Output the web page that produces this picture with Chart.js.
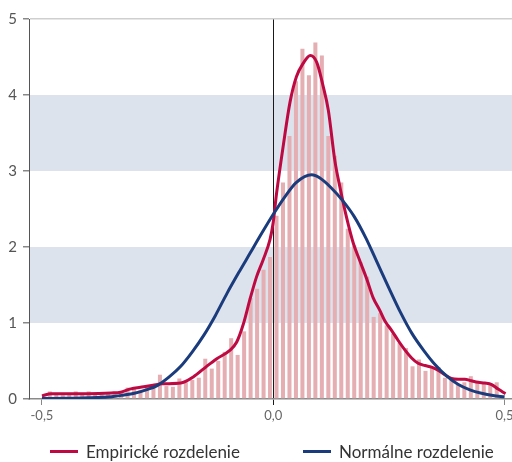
<!DOCTYPE html>
<html>
<head>
<meta charset="utf-8">
<script src="https://cdn.jsdelivr.net/npm/chart.js@4/dist/chart.umd.min.js"></script>
<style>
  html, body { margin: 0; padding: 0; background: #fff; }
  #wrap { position: relative; width: 512px; height: 462px; }
  #legend { position: absolute; left: 0; top: 440px; width: 512px; height: 22px; font-family: Lato, sans-serif; font-size: 17px; color: #333; }
  .item { position: absolute; top: 0; height: 22px; display: flex; align-items: center; white-space: nowrap; }
  .swatch { width: 28px; height: 3px; margin-right: 8px; }
</style>
</head>
<body>
<div id="wrap">
  <canvas id="distChart" width="512" height="462"></canvas>
  <div id="legend"></div>
</div>
<script>
// histogram bins (centre of first bin, bin width) and bar heights
const binStart = -0.483;
const binWidth = 0.014;
const binValues = [
  0.10, 0.07, 0.05, 0.06, 0.10, 0.06, 0.10, 0.07, 0.06, 0.07,
  0.08, 0.10, 0.15, 0.13, 0.12, 0.16, 0.17, 0.32, 0.17, 0.16,
  0.27, 0.22, 0.25, 0.28, 0.53, 0.40, 0.50, 0.62, 0.80, 0.58,
  0.89, 1.33, 1.45, 1.70, 1.87, 2.41, 2.85, 3.46, 4.18, 4.61,
  4.26, 4.69, 4.52, 3.46, 3.20, 2.85, 2.24, 2.02, 1.80, 1.61,
  1.08, 1.13, 0.97, 0.86, 0.74, 0.67, 0.43, 0.52, 0.37, 0.41,
  0.42, 0.28, 0.25, 0.19, 0.22, 0.30, 0.23, 0.21, 0.21, 0.22
];

// empirical density curve
const empX = [-0.5, -0.48, -0.45, -0.4, -0.35, -0.33, -0.31, -0.28, -0.26, -0.24,
  -0.2, -0.173, -0.144, -0.122, -0.094, -0.079, -0.065, -0.05, -0.036, -0.022,
  -0.007, 0.0, 0.007, 0.022, 0.036, 0.05, 0.065, 0.08, 0.094, 0.108,
  0.119, 0.133, 0.144, 0.158, 0.173, 0.187, 0.202, 0.216, 0.23, 0.241,
  0.256, 0.27, 0.284, 0.299, 0.313, 0.328, 0.342, 0.356, 0.371, 0.385,
  0.4, 0.414, 0.428, 0.443, 0.457, 0.472, 0.486, 0.502];
const empY = [0.04, 0.07, 0.07, 0.07, 0.08, 0.09, 0.13, 0.16, 0.18, 0.20,
  0.21, 0.29, 0.43, 0.53, 0.64, 0.75, 0.98, 1.32, 1.61, 1.83,
  2.10, 2.33, 2.70, 3.35, 3.90, 4.24, 4.42, 4.52, 4.43, 4.11,
  3.80, 3.14, 2.79, 2.40, 2.05, 1.82, 1.58, 1.33, 1.17, 1.03,
  0.90, 0.77, 0.65, 0.54, 0.47, 0.44, 0.42, 0.38, 0.32, 0.27,
  0.26, 0.26, 0.24, 0.22, 0.21, 0.19, 0.13, 0.07];

// normal density curve
const normX = [-0.5, -0.45, -0.4, -0.35, -0.325, -0.3, -0.275, -0.25, -0.225, -0.2,
  -0.175, -0.15, -0.125, -0.1, -0.075, -0.05, -0.025, 0, 0.025, 0.05,
  0.083, 0.1, 0.125, 0.15, 0.175, 0.2, 0.225, 0.25, 0.275, 0.3,
  0.325, 0.35, 0.375, 0.4, 0.425, 0.45, 0.475, 0.5];
const normY = [0.005, 0.01, 0.015, 0.03, 0.05, 0.075, 0.12, 0.18, 0.29, 0.43,
  0.62, 0.84, 1.10, 1.39, 1.66, 1.92, 2.18, 2.43, 2.66, 2.85,
  2.95, 2.91, 2.78, 2.61, 2.40, 2.12, 1.79, 1.46, 1.14, 0.86,
  0.64, 0.45, 0.30, 0.19, 0.12, 0.075, 0.045, 0.03];

const xTickValues = [-0.5, 0, 0.5];
const yBands = [[1, 2], [3, 4]];
const seriesLabels = ['Empirické rozdelenie', 'Normálne rozdelenie'];
const seriesColors = ['#be0a42', '#1b3c7c'];

const bandPlugin = {
  id: 'bands',
  beforeDraw(chart) {
    const { ctx, chartArea, scales } = chart;
    ctx.save();
    ctx.fillStyle = '#dde3ed';
    yBands.forEach(([lo, hi]) => {
      const top = scales.y.getPixelForValue(hi);
      const bottom = scales.y.getPixelForValue(lo);
      ctx.fillRect(chartArea.left, top, chartArea.right - chartArea.left, bottom - top);
    });
    ctx.restore();
  }
};

const ctx = document.getElementById('distChart').getContext('2d');

const chart = new Chart(ctx, {
  type: 'bar',
  data: {
    datasets: [
      {
        type: 'line',
        label: seriesLabels[1],
        data: normX.map((x, i) => ({ x: x, y: normY[i] })),
        borderColor: seriesColors[1],
        borderWidth: 3,
        pointRadius: 0,
        cubicInterpolationMode: 'monotone',
        order: 1
      },
      {
        type: 'line',
        label: seriesLabels[0],
        data: empX.map((x, i) => ({ x: x, y: empY[i] })),
        borderColor: seriesColors[0],
        borderWidth: 3,
        pointRadius: 0,
        cubicInterpolationMode: 'monotone',
        order: 2
      },
      {
        type: 'bar',
        label: 'Histogram',
        data: binValues.map((v, i) => ({ x: binStart + i * binWidth, y: v })),
        backgroundColor: '#e4aeb2',
        barPercentage: 1,
        categoryPercentage: 0.62,
        order: 3
      }
    ]
  },
  options: {
    responsive: false,
    animation: false,
    layout: { padding: { top: 19, right: 0, bottom: 37, left: 0 } },
    plugins: {
      legend: { display: false },
      tooltip: { enabled: false }
    },
    scales: {
      x: {
        type: 'linear',
        min: -0.528,
        max: 0.516,
        offset: false,
        afterBuildTicks: s => { s.ticks = xTickValues.map(v => ({ value: v })); },
        afterFit: s => { s.height = 26; s.paddingLeft = 0; s.paddingRight = 0; },
        ticks: {
          callback: v => v.toFixed(1).replace('.', ','),
          color: '#666',
          font: { family: 'Lato', size: 13 },
          padding: 3,
          maxRotation: 0,
          autoSkip: false
        },
        grid: {
          offset: false,
          color: c => (c.tick && c.tick.value === 0) ? '#1a1a1a' : 'transparent',
          tickColor: c => (c.tick && c.tick.value === 0) ? '#1a1a1a' : '#888',
          tickLength: 6
        },
        border: { color: '#8a8a8a', width: 1.5 }
      },
      y: {
        min: 0,
        max: 5,
        afterFit: s => { s.width = 29; s.paddingTop = 0; s.paddingBottom = 0; },
        ticks: {
          stepSize: 1,
          color: '#555',
          font: { family: 'Lato', size: 15 },
          padding: 6
        },
        grid: {
          color: c => (c.tick && c.tick.value === 5) ? '#cfcfcf' : 'transparent',
          tickColor: '#888',
          tickLength: 6,
          lineWidth: 1.5
        },
        border: { color: '#555', width: 1 }
      }
    }
  },
  plugins: [bandPlugin]
});

// legend below the chart
const legendEl = document.getElementById('legend');
const legendLeft = [50, 303];
seriesLabels.forEach((label, i) => {
  const item = document.createElement('div');
  item.className = 'item';
  item.style.left = legendLeft[i] + 'px';
  item.innerHTML = '<span class="swatch" style="background:' + seriesColors[i] + '"></span><span>' + label + '</span>';
  legendEl.appendChild(item);
});
</script>
</body>
</html>
